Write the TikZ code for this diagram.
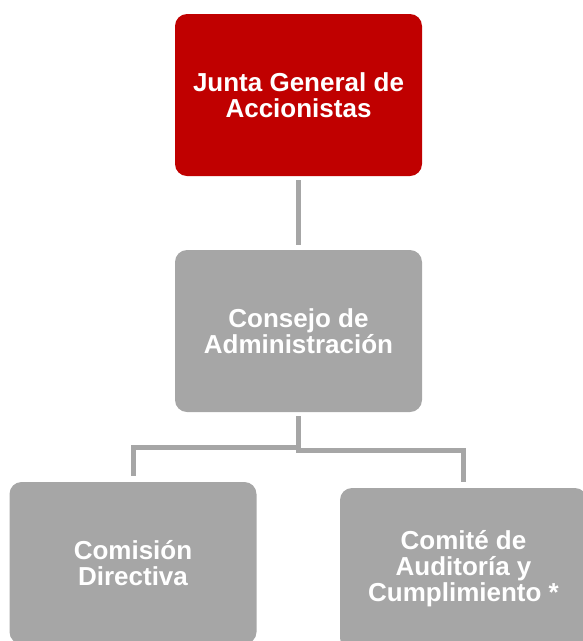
\documentclass[tikz,border=0pt]{standalone}
\usepackage{fontspec}
\setmainfont{Liberation Sans}
\definecolor{juntared}{HTML}{C00000}
\definecolor{orggray}{HTML}{A6A6A6}
\begin{document}
\begin{tikzpicture}[
  x=1pt, y=-1pt,
  orgbox/.style={rectangle, rounded corners=12pt, minimum width=247pt,
    minimum height=162pt, align=center, text=white,
    font=\fontsize{26}{26}\selectfont\bfseries},
  orgline/.style={draw=orggray, line width=5pt, shorten >=5pt, shorten <=4pt}
]
\clip (0,0) rectangle (583,641);

\node[orgbox, fill=juntared] (junta) at (298.5,95) {Junta General de\\Accionistas};
\node[orgbox, fill=orggray] (consejo) at (298.5,331) {Consejo de\\Administración};
\node[orgbox, fill=orggray] (comision) at (133,563) {Comisión\\Directiva};
\node[orgbox, fill=orggray] (comite) at (463.5,569) {Comité de\\Auditoría y\\Cumplimiento *};

\draw[orgline] (junta.south) -- (consejo.north);
\draw[orgline, shorten >=6pt] (consejo.south) -- ++(0,35) -| (comision.north);
\draw[orgline, shorten >=6pt] (consejo.south) -- ++(0,38) -| (comite.north);

\end{tikzpicture}
\end{document}
